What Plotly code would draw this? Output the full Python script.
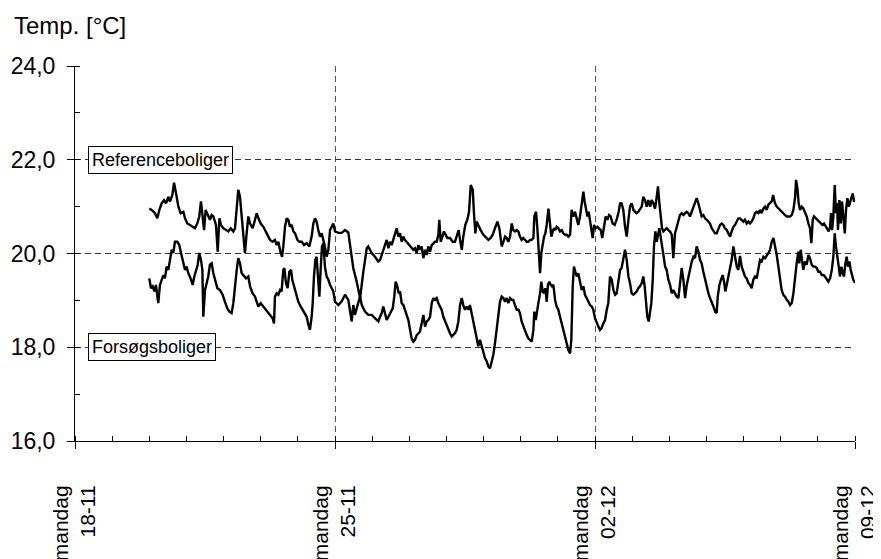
import pandas as pd
import plotly.graph_objects as go

start = pd.Timestamp("2002-11-20 00:00")

ref_points = [
    (0.0, 20.96), (1.5, 20.93), (3.7, 20.86), (5.2, 20.75), (6.5, 20.93), (8.0, 21.07), (9.5, 21.14),
    (10.8, 21.07), (12.3, 21.21), (13.4, 21.11), (14.9, 21.25), (16.0, 21.51), (17.3, 21.28), (18.8, 21.00),
    (20.3, 20.86), (22.0, 20.89), (23.1, 20.75), (24.6, 20.64), (26.3, 20.61), (28.0, 20.57), (29.5, 20.54),
    (31.0, 20.64), (32.3, 20.79), (33.4, 21.11), (34.5, 20.82), (35.4, 20.50), (36.4, 20.93), (37.7, 20.82),
    (39.2, 20.72), (40.3, 20.82), (41.4, 20.79), (43.1, 20.61), (44.2, 20.04), (45.3, 20.75), (46.3, 20.61),
    (47.8, 20.54), (49.6, 20.50), (51.1, 20.47), (52.6, 20.54), (54.3, 20.47), (55.4, 20.54), (56.5, 20.93),
    (57.5, 21.36), (58.6, 21.21), (59.7, 20.79), (60.8, 20.50), (61.8, 20.01), (62.9, 20.43), (64.0, 20.79),
    (65.1, 20.64), (66.8, 20.54), (68.3, 20.72), (69.4, 20.86), (70.5, 20.75), (72.0, 20.64), (73.7, 20.57),
    (75.4, 20.47), (76.9, 20.36), (78.0, 20.29),
    (79.7, 20.25), (81.2, 20.29), (82.3, 20.18), (83.4, 20.25), (84.9, 20.01), (85.8, 19.93), (86.6, 20.15),
    (87.7, 20.57), (88.8, 20.75), (89.8, 20.72), (90.9, 20.57), (92.0, 20.61), (93.1, 20.47), (94.2, 20.43),
    (95.7, 20.29), (97.0, 20.25), (98.5, 20.25), (100.0, 20.18), (101.7, 20.22), (103.4, 20.15), (104.9, 20.36),
    (106.0, 20.64), (107.1, 20.75), (108.1, 20.68), (109.2, 20.50), (110.3, 20.36), (111.4, 20.43), (112.5, 20.29),
    (113.5, 20.15), (114.6, 19.93), (115.7, 20.08), (116.8, 20.50), (117.8, 20.57), (118.9, 20.64),
    (120.0, 20.47), (122.2, 20.44), (124.3, 20.44), (126.5, 20.50), (128.6, 20.45), (129.7, 20.20), (131.8, 19.69),
    (134.0, 19.40), (136.2, 19.05), (138.3, 19.61), (140.5, 20.11), (141.5, 20.15), (143.7, 20.01), (145.8, 19.93),
    (148.0, 19.83),
    (149.1, 19.86), (150.2, 19.97), (151.2, 20.08), (152.3, 20.18), (153.4, 20.29), (154.5, 20.11), (155.5, 20.25),
    (156.6, 20.18), (157.7, 20.29), (158.8, 20.40), (159.9, 20.54), (160.9, 20.36), (162.0, 20.43), (163.1, 20.25),
    (164.2, 20.36), (165.2, 20.29), (166.3, 20.25), (168.0, 20.18), (169.5, 20.11), (170.6, 20.08), (171.7, 20.11),
    (172.8, 20.01), (173.9, 20.18), (174.9, 20.08), (176.0, 20.15), (177.1, 19.90), (178.2, 20.08), (179.2, 19.97),
    (180.3, 20.15), (181.4, 20.04), (182.5, 20.18), (183.5, 20.22), (184.6, 20.25), (185.7, 20.25), (186.8, 20.40),
    (187.4, 20.72), (188.3, 20.25), (189.4, 20.36), (190.4, 20.47), (191.5, 20.40), (192.6, 20.33), (194.3, 20.33),
    (196.0, 20.25), (197.5, 20.25), (199.0, 20.43), (199.9, 20.50), (200.8, 20.29), (201.9, 20.08), (202.9, 20.36),
    (204.2, 20.61), (205.5, 20.72), (206.6, 20.89), (207.7, 21.46), (209.0, 21.36), (209.8, 20.86), (210.7, 20.43),
    (211.5, 20.68), (212.8, 20.57), (214.1, 20.50), (215.9, 20.40), (217.6, 20.33), (219.1, 20.29), (220.6, 20.33),
    (221.9, 20.40), (223.4, 20.54), (224.9, 20.68), (226.2, 20.54),
    (227.7, 20.15), (228.8, 20.25), (229.9, 20.36), (230.9, 20.33), (232.0, 20.25), (233.1, 20.36), (234.2, 20.64),
    (235.2, 20.50), (236.3, 20.47), (237.4, 20.50), (238.5, 20.47), (239.5, 20.36), (240.6, 20.29), (241.7, 20.33),
    (242.8, 20.29), (243.9, 20.25), (244.9, 20.25), (246.0, 20.29), (247.1, 20.29), (248.2, 20.33), (248.8, 20.79),
    (249.9, 20.89), (250.7, 20.57), (251.6, 20.15), (252.5, 19.58), (253.3, 20.01), (254.2, 20.25), (255.1, 20.36),
    (255.9, 20.43), (256.8, 20.61), (257.9, 20.96), (258.9, 20.64), (259.8, 20.36), (260.7, 20.47), (261.5, 20.54),
    (262.4, 20.50), (263.2, 20.57), (264.3, 20.54), (265.4, 20.47), (266.5, 20.50), (267.5, 20.43), (268.6, 20.40),
    (269.7, 20.40), (270.8, 20.36), (271.9, 20.40), (272.9, 20.93), (274.0, 20.79), (275.1, 20.89), (276.2, 20.72),
    (277.2, 20.61), (278.3, 20.79), (279.4, 21.04), (280.5, 21.32), (281.3, 21.11), (282.2, 20.93), (283.1, 20.79),
    (283.9, 20.89), (284.8, 20.68), (285.6, 20.50), (286.5, 20.33), (287.4, 20.61), (288.4, 20.54), (289.5, 20.57),
    (290.6, 20.54), (291.7, 20.50), (292.7, 20.33), (293.8, 20.57), (294.9, 20.79), (296.0, 20.72), (297.1, 20.82),
    (298.1, 20.79), (299.4, 20.64), (300.7, 20.61), (302.0, 20.72), (303.3, 20.89),
    (304.2, 21.07), (305.2, 21.07), (306.3, 20.93), (307.4, 20.57), (308.5, 20.36), (309.6, 20.72), (310.6, 21.00),
    (311.7, 21.07), (312.8, 20.93), (313.9, 20.89), (314.9, 20.86), (316.0, 20.89), (317.1, 20.96), (318.2, 21.00),
    (319.2, 21.21), (320.3, 21.14), (321.4, 21.00), (322.5, 21.14), (323.6, 21.00), (324.6, 21.14), (325.7, 21.07),
    (326.8, 20.96), (327.9, 21.21), (328.7, 21.43), (329.6, 21.07), (330.4, 20.86), (331.3, 20.54), (332.2, 20.47),
    (333.3, 20.50), (334.3, 20.54), (335.4, 20.50), (336.5, 20.47), (337.6, 20.40), (338.6, 19.90), (339.7, 20.43),
    (340.8, 20.57), (341.9, 20.72), (342.9, 20.82), (344.0, 20.86), (345.1, 20.82), (346.2, 20.86), (347.3, 20.89),
    (348.3, 20.86), (349.4, 20.79), (350.5, 20.89), (351.6, 21.00), (352.6, 21.07), (353.7, 21.18), (354.8, 21.07),
    (355.9, 20.89), (356.9, 20.79), (358.0, 20.82), (359.1, 20.75), (360.2, 20.72), (361.3, 20.68), (362.3, 20.64),
    (363.4, 20.54), (364.5, 20.47), (365.6, 20.43), (366.6, 20.43), (367.7, 20.54), (368.8, 20.61), (369.9, 20.64),
    (370.9, 20.61), (372.0, 20.54), (373.1, 20.50), (374.2, 20.43), (375.3, 20.36), (376.3, 20.47), (377.4, 20.57),
    (378.5, 20.61), (379.6, 20.68), (380.6, 20.75),
    (381.7, 20.75), (382.8, 20.72), (383.9, 20.68), (384.9, 20.72), (386.0, 20.64), (387.1, 20.68), (388.2, 20.64),
    (389.2, 20.68), (390.3, 20.75), (391.4, 20.86), (392.5, 20.89), (393.6, 20.86), (394.6, 20.93), (395.7, 20.86),
    (396.8, 20.96), (397.9, 21.00), (398.9, 20.93), (400.0, 21.04), (401.1, 21.07), (402.2, 21.11), (403.1, 21.25),
    (404.3, 21.07), (405.4, 21.00), (406.5, 20.96), (407.6, 20.93), (408.6, 20.89), (409.7, 20.86), (410.8, 20.82),
    (411.9, 20.79), (413.0, 20.79), (414.0, 20.79), (415.1, 20.82), (416.2, 20.93), (417.3, 21.21), (417.9, 21.57),
    (418.8, 21.39), (419.6, 21.07), (420.5, 20.93), (421.6, 21.00), (422.6, 20.96), (423.7, 20.86), (424.8, 20.79),
    (425.9, 20.64), (426.9, 20.54), (427.8, 20.22), (428.7, 20.72), (429.5, 20.79), (430.6, 20.75), (431.7, 20.72),
    (432.8, 20.68), (433.8, 20.64), (434.9, 20.61), (436.0, 20.64), (437.1, 20.57), (438.1, 20.54), (439.0, 20.47),
    (439.9, 20.57), (440.5, 20.86), (441.2, 20.50), (442.0, 20.79), (442.9, 21.46), (443.7, 20.86), (444.4, 21.07),
    (445.0, 20.50), (445.9, 21.14), (446.8, 20.64), (447.6, 21.11), (448.5, 20.72), (449.4, 20.43), (450.2, 20.93),
    (451.1, 21.18), (452.0, 21.00), (452.8, 21.11), (453.7, 21.21), (454.5, 21.28), (455.4, 21.11), (456.0, 21.14),
]

fors_points = [
    (0.0, 19.47), (1.1, 19.26), (2.2, 19.30), (3.3, 19.19), (4.3, 19.33), (5.2, 19.15), (5.8, 18.94), (6.9, 19.33),
    (8.0, 19.44), (9.1, 19.54), (10.1, 19.47), (11.2, 19.72), (12.3, 19.65), (13.4, 19.86), (14.5, 20.08),
    (15.5, 20.01), (16.6, 20.25), (18.1, 20.25), (19.4, 20.18), (20.3, 20.04), (21.6, 19.86), (23.1, 19.65),
    (24.1, 19.72), (25.2, 19.58), (26.7, 19.47), (28.0, 19.33), (29.1, 19.51), (30.2, 19.65), (31.3, 19.76),
    (32.3, 20.01), (33.4, 19.86), (34.3, 19.65), (34.9, 18.65), (36.0, 19.22), (37.1, 19.37), (38.1, 19.51),
    (39.2, 19.76), (40.3, 19.79), (41.4, 19.58), (42.5, 19.44), (44.0, 19.26), (45.7, 19.22), (47.4, 19.12),
    (48.9, 18.97), (50.4, 18.83), (51.7, 18.76), (53.2, 18.73), (54.3, 18.94), (55.4, 19.37), (56.5, 19.65),
    (57.5, 19.90), (58.6, 19.79), (59.7, 19.58), (61.2, 19.51), (62.5, 19.47), (64.0, 19.51), (65.1, 19.30),
    (66.8, 19.15), (68.3, 19.08), (69.4, 18.97), (70.5, 18.87), (72.0, 18.94), (73.7, 18.87), (75.4, 18.80),
    (76.9, 18.73), (78.0, 18.67),
    (79.7, 18.62), (80.6, 18.51), (81.2, 19.08), (82.3, 19.15), (83.4, 19.12), (84.5, 19.22), (85.5, 19.19),
    (86.6, 19.65), (87.3, 19.69), (88.3, 19.37), (89.4, 19.26), (90.5, 19.61), (91.6, 19.65), (92.4, 19.44),
    (93.5, 19.30), (94.8, 19.15), (96.3, 18.97), (97.8, 18.87), (99.1, 18.80), (100.6, 18.73), (101.7, 18.65),
    (102.8, 18.48), (103.8, 18.37), (104.9, 18.65), (105.6, 18.94), (106.4, 19.51), (107.3, 19.86), (108.1, 19.93),
    (109.0, 19.51), (109.9, 19.08), (110.7, 19.65), (111.6, 20.15), (112.5, 20.22), (113.5, 19.72), (114.6, 19.51),
    (115.7, 19.44), (116.8, 19.33), (117.8, 19.26), (118.9, 19.19),
    (120.0, 18.97), (122.2, 18.90), (124.3, 18.98), (126.5, 19.12), (128.6, 19.01), (129.7, 18.76), (130.8, 18.55),
    (131.8, 18.90), (132.9, 18.69), (134.0, 18.83), (135.1, 18.97), (136.2, 19.08), (137.3, 18.90), (139.4, 18.76),
    (141.5, 18.69), (143.7, 18.69), (145.8, 18.62), (148.0, 18.55),
    (149.1, 18.65), (150.2, 18.73), (151.2, 18.87), (152.3, 18.69), (153.4, 18.58), (154.5, 18.65), (156.0, 18.73),
    (157.3, 18.83), (158.3, 19.08), (159.2, 19.40), (160.3, 19.30), (161.1, 19.15), (162.0, 19.19), (163.1, 18.94),
    (164.2, 18.90), (165.2, 18.80), (166.3, 18.73), (167.4, 18.58), (168.5, 18.37), (169.5, 18.19), (170.6, 18.12),
    (171.7, 18.16), (172.8, 18.26), (173.9, 18.30), (174.9, 18.33), (176.0, 18.51), (177.1, 18.69), (178.2, 18.44),
    (179.2, 18.55), (180.3, 18.58), (181.4, 18.65), (182.5, 18.94), (183.5, 19.05), (184.6, 19.01), (185.7, 19.05),
    (186.8, 18.94), (187.9, 18.87), (188.9, 18.80), (190.0, 18.65), (191.1, 18.55), (192.2, 18.48), (193.2, 18.37),
    (194.3, 18.30), (195.4, 18.23), (196.5, 18.26), (197.5, 18.30), (198.6, 18.37), (199.7, 18.55), (200.8, 18.90),
    (201.9, 19.05), (202.9, 18.90), (204.0, 18.80), (205.1, 18.87), (206.2, 18.80), (207.2, 18.90), (208.3, 18.73),
    (209.4, 18.55), (210.5, 18.37), (211.5, 18.23), (212.6, 18.02), (213.7, 18.16), (214.8, 18.02), (215.9, 17.84),
    (216.9, 17.77), (218.0, 17.70), (219.1, 17.59), (220.2, 17.55), (221.2, 17.70), (222.3, 17.84), (223.4, 18.09),
    (224.5, 18.37), (225.5, 18.58),
    (226.6, 18.97), (227.7, 19.08), (228.8, 19.05), (229.9, 18.97), (230.9, 19.05), (232.0, 18.94), (233.1, 19.05),
    (234.2, 19.01), (235.2, 19.01), (236.3, 18.90), (237.4, 18.80), (238.5, 18.80), (239.5, 18.73), (240.6, 18.55),
    (241.7, 18.44), (242.8, 18.33), (243.9, 18.26), (244.9, 18.19), (246.0, 18.16), (247.1, 18.12), (248.2, 18.37),
    (248.8, 18.76), (249.7, 18.58), (250.5, 18.80), (251.4, 18.94), (252.5, 19.15), (253.3, 19.40), (254.2, 19.19),
    (255.1, 19.15), (255.9, 19.26), (256.8, 18.97), (257.6, 19.33), (258.5, 19.40), (259.4, 19.33), (260.2, 19.30),
    (261.1, 19.33), (262.2, 19.01), (263.2, 18.87), (264.3, 18.80), (265.4, 18.65), (266.5, 18.51), (267.5, 18.37),
    (268.6, 18.23), (269.7, 18.09), (270.8, 17.94), (271.9, 17.87), (272.7, 18.16), (273.6, 19.30), (274.4, 19.72),
    (275.3, 19.61), (276.2, 19.51), (277.2, 19.58), (278.3, 19.37), (279.4, 19.22), (280.5, 19.30), (281.5, 19.12),
    (282.6, 19.05), (283.7, 18.97), (284.8, 18.90), (285.9, 18.87), (286.9, 18.80), (288.0, 18.62), (289.1, 18.51),
    (290.2, 18.44), (291.2, 18.37), (292.3, 18.41), (293.4, 18.51), (294.5, 18.58), (295.6, 18.80), (296.6, 18.94),
    (297.7, 19.51), (298.8, 19.44), (299.9, 19.22), (301.0, 19.12), (302.0, 19.15), (303.1, 19.37), (304.2, 19.65),
    (305.2, 19.69), (306.3, 19.90), (307.4, 20.08), (308.5, 19.86), (309.6, 19.51), (310.6, 19.37),
    (311.7, 19.15), (312.8, 19.12), (313.9, 19.15), (314.9, 19.19), (316.0, 19.26), (317.1, 19.30), (318.2, 19.37),
    (319.2, 19.51), (320.1, 19.30), (321.0, 19.01), (321.8, 18.65), (322.7, 18.55), (323.6, 18.73), (324.4, 18.94),
    (325.3, 19.44), (326.1, 20.15), (327.0, 20.47), (327.9, 20.25), (328.7, 20.40), (329.6, 20.54), (330.4, 20.36),
    (331.3, 20.11), (332.2, 19.97), (333.3, 19.72), (334.3, 19.65), (335.4, 19.44), (336.5, 19.33), (337.6, 19.15),
    (338.6, 19.22), (339.7, 19.15), (340.8, 19.08), (341.9, 19.05), (342.9, 19.37), (344.0, 19.69), (345.1, 19.44),
    (346.2, 19.05), (347.3, 19.33), (348.3, 19.51), (349.4, 19.65), (350.5, 19.83), (351.6, 19.93), (352.6, 19.90),
    (353.7, 20.15), (354.8, 20.04), (355.9, 19.86), (356.9, 19.79), (358.0, 19.61), (359.1, 19.44), (360.2, 19.30),
    (361.3, 19.15), (362.3, 19.05), (363.4, 18.97), (364.5, 18.87), (365.6, 18.76), (366.6, 18.73), (367.3, 19.08),
    (368.4, 19.33), (369.4, 19.44), (370.5, 19.54), (371.4, 19.40), (372.2, 19.19), (373.1, 19.33), (374.2, 19.51),
    (375.3, 19.65), (376.3, 19.86), (377.4, 20.15), (378.5, 19.93), (379.6, 19.72), (380.6, 19.65),
    (381.7, 19.95), (382.8, 19.72), (383.9, 19.58), (384.9, 19.51), (386.0, 19.47), (387.1, 19.37), (388.2, 19.33),
    (389.2, 19.26), (390.3, 19.44), (391.4, 19.51), (392.5, 19.47), (393.6, 19.65), (394.6, 19.86), (395.7, 19.83),
    (396.8, 19.93), (397.9, 19.90), (398.9, 19.97), (400.0, 20.01), (401.1, 20.08), (402.2, 20.25), (403.3, 20.33),
    (404.3, 20.18), (405.4, 19.97), (406.5, 19.72), (407.6, 19.44), (408.6, 19.22), (409.7, 19.12), (410.8, 19.08),
    (411.9, 19.01), (413.0, 18.97), (414.0, 18.90), (415.1, 18.94), (416.2, 19.15), (417.3, 19.58), (418.3, 19.79),
    (419.4, 20.04), (420.0, 19.79), (420.9, 20.08), (421.8, 19.86), (422.6, 19.65), (423.7, 19.83), (424.8, 19.76),
    (425.9, 19.97), (426.9, 19.90), (428.0, 19.76), (429.1, 19.72), (430.2, 19.72), (431.3, 19.69), (432.3, 19.61),
    (433.4, 19.61), (434.5, 19.54), (435.6, 19.54), (436.6, 19.51), (437.7, 19.44), (438.8, 19.40), (439.9, 19.47),
    (441.0, 19.65), (442.0, 19.93), (442.9, 20.43), (443.7, 20.15), (444.6, 19.86), (445.5, 19.72), (446.3, 19.51),
    (447.2, 19.72), (448.1, 19.58), (448.9, 19.51), (449.8, 19.79), (450.6, 19.93), (451.5, 19.72), (452.4, 19.83),
    (453.2, 19.65), (454.1, 19.51), (454.9, 19.44), (456.0, 19.37),
]

tick_dates = ["2002-11-18", "2002-11-25", "2002-12-02", "2002-12-09"]
tick_labels = ["mandag<br>18-11", "mandag<br>25-11", "mandag<br>02-12", "mandag<br>09-12"]
y_ticks = [16, 18, 20, 22, 24]
series_labels = ["Referenceboliger", "Forsøgsboliger"]
label_levels = [22, 18]


def to_xy(points):
    hrs = [p[0] for p in points]
    temps = [p[1] for p in points]
    xs = start + pd.to_timedelta(hrs, unit="h")
    return xs, temps


fig = go.Figure()
for pts, name in [(ref_points, series_labels[0]), (fors_points, series_labels[1])]:
    xs, ys = to_xy(pts)
    fig.add_trace(go.Scatter(x=xs, y=ys, mode="lines", name=name,
                             line=dict(color="black", width=2.4)))

for text, level in zip(series_labels, label_levels):
    fig.add_annotation(x=0.0167, xref="paper", y=level, yref="y", text=text,
                       showarrow=False, xanchor="left", yanchor="middle",
                       font=dict(size=18, color="black"),
                       bgcolor="white", bordercolor="black", borderwidth=1, borderpad=3)

fig.add_annotation(x=-0.081, xref="paper", y=1.107, yref="paper", text="Temp. [°C]",
                   showarrow=False, xanchor="left", yanchor="middle",
                   font=dict(size=24, color="black"))

# The page places the figure 8 px in from the top-left corner of the window
fig.update_layout(
    width=881, height=559,
    margin=dict(l=67, r=34, t=58, b=126, autoexpand=False),
    plot_bgcolor="white", paper_bgcolor="white",
    showlegend=False,
    separators=",.",
    font=dict(family="Liberation Sans, Arial, sans-serif", size=20, color="black"),
)

fig.update_xaxes(
    type="date", automargin=False,
    range=[tick_dates[0], tick_dates[-1]],
    tickmode="array", tickvals=tick_dates, ticktext=tick_labels,
    tickangle=-90,
    ticks="outside", ticklen=7, tickcolor="black", tickwidth=1,
    ticklabelstandoff=28,
    showline=True, linecolor="black", linewidth=1,
    showgrid=True, gridcolor="#555555", gridwidth=1, griddash="6px,4px",
    zeroline=False,
    minor=dict(ticks="inside", ticklen=5, tickcolor="black", dtick=86400000,
               tick0=tick_dates[0], showgrid=False),
    tickfont=dict(size=21),
)

fig.update_yaxes(
    automargin=False,
    range=[16, 24],
    tickmode="array", tickvals=y_ticks, tickformat=".1f",
    ticks="outside", ticklen=7, tickcolor="black", tickwidth=1,
    ticklabelstandoff=7,
    showline=True, linecolor="black", linewidth=1,
    showgrid=True, gridcolor="#333333", gridwidth=1, griddash="6px,4px",
    zeroline=False,
    minor=dict(ticks="inside", ticklen=5, tickcolor="black", dtick=1, tick0=17, showgrid=False),
    tickfont=dict(size=23),
)

fig.write_html("out.html")
